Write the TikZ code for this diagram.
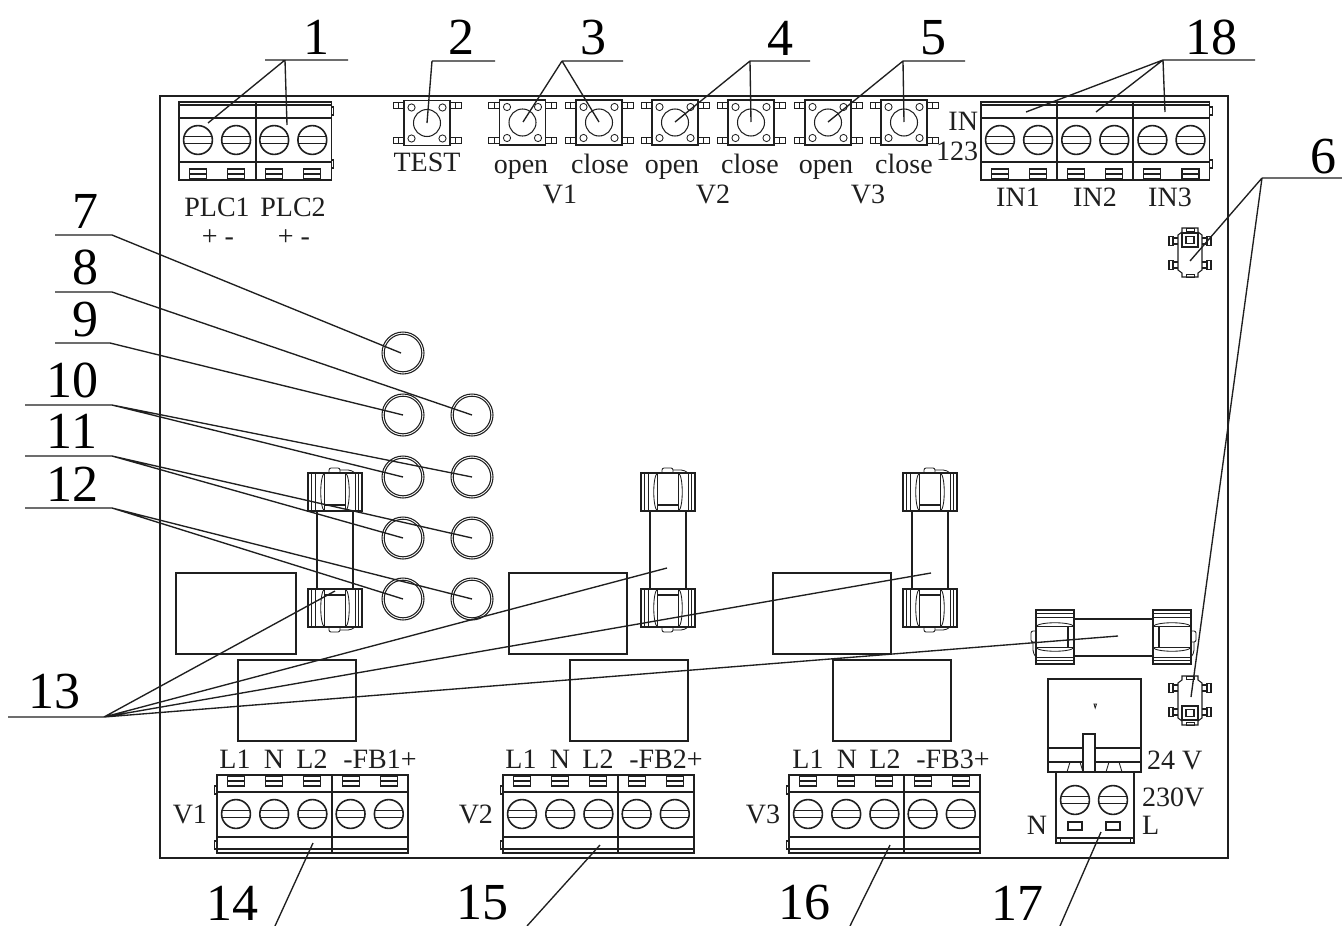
\documentclass[tikz,border=0pt]{standalone}
\usepackage{fontspec}
\setmainfont{Liberation Serif}
\definecolor{ink}{gray}{0.12}
\tikzset{
  part/.style={draw=ink,line width=1.05pt,fill=none},
  thin part/.style={draw=ink,line width=0.85pt,fill=none},
  heavy/.style={draw=ink,line width=1.6pt,fill=none},
  leader/.style={draw=ink,line width=1.35pt},
  lab/.style={inner sep=0pt,outer sep=0pt,text=ink,font=\fontsize{28}{28}\selectfont,anchor=base},
  labw/.style={lab,anchor=base west},
  labe/.style={lab,anchor=base east},
  num/.style={inner sep=0pt,outer sep=0pt,text=black,font=\fontsize{52}{52}\selectfont,anchor=center},
}
% screw: centre x, centre y
\newcommand\screwhead[2]{%
  \draw[heavy] (#1,#2) circle[radius=14.4];
  \draw[part] (#1-14,#2-3.5) -- (#1+14,#2-3.5) (#1-14,#2+3.5) -- (#1+14,#2+3.5);
}
\newcommand\smallslot[2]{%
  \draw[part] (#1-8.5,#2-5) rectangle (#1+8.5,#2+5) (#1-8.5,#2) -- (#1+8.5,#2);
}
% top terminal block: left x, screws, dividers
\newcommand\topterm[3]{%
  \pgfmathsetmacro\tw{#2*38.1}
  \draw[part] (#1,102) rectangle (#1+\tw,180);
  \draw[part] (#1,105) -- (#1+\tw,105);
  \draw[heavy] (#1,118) -- (#1+\tw,118);
  \draw[part] (#1,162) -- (#1+\tw,162);
  \draw[part] (#1+\tw,107) rectangle (#1+\tw+2.5,115) (#1+\tw,160) rectangle (#1+\tw+2.5,168);
  \foreach \d in {#3} {\draw[part] (\d,102) -- (\d,180);}
  \pgfmathtruncatemacro\lastk{#2-1}
  \foreach \k in {0,...,\lastk} {
    \pgfmathsetmacro\sx{#1+19+38.1*\k}
    \screwhead{\sx}{140}
    \smallslot{\sx}{174}
  }
}
% bottom terminal block: left x, divider
\newcommand\botterm[2]{%
  \draw[part] (#1,775) rectangle (#1+191,853);
  \draw[part] (#1,792) -- (#1+191,792);
  \draw[heavy] (#1,837) -- (#1+191,837);
  \draw[part] (#1,849) -- (#1+191,849);
  \draw[part] (#1,786) rectangle (#1-2.5,794) (#1,841) rectangle (#1-2.5,849);
  \draw[part] (#2,775) -- (#2,853);
  \foreach \k in {0,...,4} {
    \pgfmathsetmacro\sx{#1+19+38.2*\k}
    \screwhead{\sx}{814}
    \smallslot{\sx}{781}
  }
}
% tact button: centre x, centre y
\newcommand\tact[2]{%
  \draw[part] (#1-23,#2-22.5) rectangle (#1+23,#2+22.5);
  \draw[part] (#1,#2) circle[radius=13.5];
  \foreach \a in {-1,1} \foreach \b in {-1,1} {
    \draw[thin part] (#1+\a*15.5,#2+\b*15.5) circle[radius=3.6];
    \draw[thin part] (#1+\a*23,#2+\b*17.5-3) rectangle (#1+\a*34,#2+\b*17.5+3);
    \draw[thin part] (#1+\a*28.5,#2+\b*17.5-3) -- (#1+\a*28.5,#2+\b*17.5+3);
  }
}
\newcommand\ledring[2]{%
  \draw[part] (#1,#2) circle[radius=21];
  \draw[part] (#1,#2) circle[radius=18.8];
}
% fuse clip: origin, u axis, v axis (v runs toward the fuse body)
\newcommand\fuseclip[3]{%
  \begin{scope}[shift={#1},x={#2},y={#3}]
    \draw[part] (0,0) rectangle (54,38);
    \draw[thin part] (3.5,0) -- (3.5,38) (7.7,0) -- (7.7,38) (47,0) -- (47,38) (50.7,0) -- (50.7,38);
    \draw[thin part] (16.5,0) .. controls (11.5,3) and (11.5,35) .. (16.5,38);
    \draw[thin part] (37.5,0) .. controls (42.5,3) and (42.5,35) .. (37.5,38);
    \draw[part] (16.5,0) -- (16.5,38) (37.5,0) -- (37.5,38);
    \draw[part] (16.5,32) -- (37.5,32);
    \draw[thin part,rounded corners=2pt] (21,0) -- (21,-5) -- (32,-5) -- (32,0);
    \draw[thin part,rounded corners=4pt] (32,-3) -- (44,-3) -- (47,0);
  \end{scope}
}
\newcommand\vfuse[1]{%
  \fuseclip{(#1pt,-473pt)}{(1pt,0pt)}{(0pt,-1pt)}
  \fuseclip{(#1pt,-627pt)}{(1pt,0pt)}{(0pt,1pt)}
  \draw[part] (#1+9,511) -- (#1+9,589) (#1+45,511) -- (#1+45,589);
}
% small sensor: centre x, body top, dir (1 = square on top, -1 = square at bottom)
\newcommand\sensor[3]{%
  \begin{scope}[shift={(#1pt,-#2pt)},x={(1pt,0pt)},y={(0pt,#3pt*-1)}]
    \draw[part] (-8,0) -- (8,0) -- (8,4) -- (12,7) -- (12,42) -- (8,45) -- (8,49) -- (-8,49) -- (-8,45) -- (-12,42) -- (-12,7) -- (-8,4) -- cycle;
    \draw[heavy] (-8,5) rectangle (8,19);
    \draw[heavy] (-4,8.5) rectangle (4,15.5);
    \draw[thin part] (-4,46) rectangle (4,49) (-4,0) rectangle (4,3);
    \foreach \a in {-1,1} \foreach \b in {13,37} {
      \draw[part] (\a*12,\b-3) -- (\a*17,\b-3) -- (\a*17,\b+3) -- (\a*12,\b+3);
      \draw[part] (\a*17,\b-4.5) rectangle (\a*21,\b+4.5);
    }
  \end{scope}
}
\begin{document}
\begin{tikzpicture}[x=1pt,y=-1pt]
\useasboundingbox (0,0) rectangle (1342,926);
\fill[white] (0,0) rectangle (1342,926);
% board
\draw[line width=1.5pt,draw=ink] (160,96) rectangle (1228,858);
% terminals
\topterm{179}{4}{256}
\topterm{981}{6}{1057,1133}
\botterm{217}{332}
\botterm{503}{618}
\botterm{789}{904}
% buttons
\tact{427}{123}
\foreach \bx in {522.5,599,675,751,828,904} {\tact{\bx}{122.5}}
% LEDs
\ledring{403}{353}
\foreach \ry in {415,477,538,599} {\ledring{403}{\ry}\ledring{472}{\ry}}
% relays
\draw[part] (176,573) rectangle (296,654);
\foreach \rx/\ry in {509/573,773/573,238/660,570/660,833/660} {
  \draw[part] (\rx,\ry) rectangle (\rx+118,\ry+81);
}
% fuses
\vfuse{308}
\vfuse{641}
\vfuse{903}
\fuseclip{(1036pt,-610pt)}{(0pt,-1pt)}{(1pt,0pt)}
\fuseclip{(1191pt,-610pt)}{(0pt,-1pt)}{(-1pt,0pt)}
\draw[part] (1074,619) -- (1153,619) (1074,656) -- (1153,656);
% sensors
\sensor{1190}{228}{1}
\sensor{1190}{725}{-1}
% power unit
\draw[part] (1048,679) rectangle (1141,772);
\draw[part] (1048,748) -- (1141,748) (1048,762) -- (1141,762);
\draw[part,fill=white] (1083,734) rectangle (1095,772);
\draw[thin part] (1067,772) -- (1070,762) -- (1080,762) -- (1083,772);
\draw[thin part] (1106,772) -- (1109,762) -- (1119,762) -- (1122,772);
\draw[thin part] (1094,704) -- (1096.5,704) -- (1095.2,708) -- cycle;
\draw[part] (1056,772) rectangle (1134,843);
\draw[part] (1056,838) -- (1134,838);
\draw[thin part] (1056,838) rectangle (1060,843) (1130,838) rectangle (1134,843);
\screwhead{1075}{800}
\screwhead{1113}{800}
\draw[part] (1068,822) rectangle (1082,830) (1106,822) rectangle (1120,830);
% leader anchor points
\foreach \n/\px/\py in {
  a1/208/123, a1b/287/125, a2/427/123,
  a3/523/122, a3b/599/122, a4/675/122, a4b/751/122, a5/828/122, a5b/904/122,
  a18/1026/112, a18b/1096/112, a18c/1165/112,
  a6/1190/261, a6b/1191/697,
  a7/401/353, a8/472/415, a9/403/415,
  a10/403/477, a10b/472/477, a11/403/538, a11b/472/538, a12/403/599, a12b/472/599,
  a13/335/591, a13b/667/568, a13c/931/573, a13d/1118/636,
  a14/313/843, a15/600/845, a16/890/845, a17/1101/832} {
  \coordinate (\n) at (\px,\py);
}
% leader knees and free ends
\foreach \n/\px/\py in {
  k1l/265/60, k1/285/60, k1r/348/60,
  k2/432/61, k2r/495/61,
  k3/562/61, k3r/623/61,
  k4/750/61, k4r/810/61,
  k5/903/61, k5r/965/61,
  k18/1163/60, k18r/1255/60,
  k6/1262/178, k6r/1342/178,
  k7l/55/235, k7/112/235,
  k8l/55/292, k8/112/292,
  k9l/55/343, k9/110/343,
  k10l/25/405, k10/112/405,
  k11l/25/456, k11/112/456,
  k12l/25/508, k12/112/508,
  k13l/8/717, k13/104/717,
  k14/275/926, k15/527/926, k16/850/926, k17/1060/926} {
  \coordinate (\n) at (\px,\py);
}
% leaders
\draw[leader] (k1l) -- (k1r) (k1) -- (a1) (k1) -- (a1b);
\draw[leader] (k2) -- (k2r) (k2) -- (a2);
\draw[leader] (k3) -- (k3r) (k3) -- (a3) (k3) -- (a3b);
\draw[leader] (k4) -- (k4r) (k4) -- (a4) (k4) -- (a4b);
\draw[leader] (k5) -- (k5r) (k5) -- (a5) (k5) -- (a5b);
\draw[leader] (k18) -- (k18r) (k18) -- (a18) (k18) -- (a18b) (k18) -- (a18c);
\draw[leader] (k6) -- (k6r) (k6) -- (a6) (k6) -- (a6b);
\draw[leader] (k7l) -- (k7) -- (a7);
\draw[leader] (k8l) -- (k8) -- (a8);
\draw[leader] (k9l) -- (k9) -- (a9);
\draw[leader] (k10l) -- (k10) -- (a10) (k10) -- (a10b);
\draw[leader] (k11l) -- (k11) -- (a11) (k11) -- (a11b);
\draw[leader] (k12l) -- (k12) -- (a12) (k12) -- (a12b);
\draw[leader] (k13l) -- (k13) -- (a13) (k13) -- (a13b) (k13) -- (a13c) (k13) -- (a13d);
\draw[leader] (k14) -- (a14);
\draw[leader] (k15) -- (a15);
\draw[leader] (k16) -- (a16);
\draw[leader] (k17) -- (a17);
% part numbers
\node[num] (n1) at (316,37) {1};
\node[num] (n2) at (461,37) {2};
\node[num] (n3) at (593,38) {3};
\node[num] (n4) at (780,38) {4};
\node[num] (n5) at (933,38) {5};
\node[num] (n18) at (1211,37) {18};
\node[num] (n6) at (1323,157) {6};
\node[num] (n7) at (85,211) {7};
\node[num] (n8) at (85,267) {8};
\node[num] (n9) at (85,320) {9};
\node[num] (n10) at (72,380) {10};
\node[num] (n11) at (72,431) {11};
\node[num] (n12) at (72,484) {12};
\node[num] (n13) at (54,692) {13};
\node[num] (n14) at (232,903) {14};
\node[num] (n15) at (482,903) {15};
\node[num] (n16) at (804,903) {16};
\node[num] (n17) at (1017,903) {17};
% labels
\node[lab] (tplc1) at (217,216) {PLC1};
\node[lab] (tplc2) at (293,216) {PLC2};
\node[lab] (tpm1) at (218,245) {+ -};
\node[lab] (tpm2) at (294,245) {+ -};
\node[lab] (ttest) at (427,171) {TEST};
\node[lab] (to1) at (521,173) {open};
\node[lab] (tc1) at (600,173) {close};
\node[lab] (to2) at (672,173) {open};
\node[lab] (tc2) at (750,173) {close};
\node[lab] (to3) at (826,173) {open};
\node[lab] (tc3) at (904,173) {close};
\node[lab] (tv1) at (560,203) {V1};
\node[lab] (tv2) at (713,203) {V2};
\node[lab] (tv3) at (868,203) {V3};
\node[labe] (tin) at (978,130) {IN};
\node[labe] (t123) at (978,160) {123};
\node[lab] (tin1) at (1018,206) {IN1};
\node[lab] (tin2) at (1095,206) {IN2};
\node[lab] (tin3) at (1170,206) {IN3};
\foreach \o/\v in {0/1,286/2,573/3} {
  \node[lab] (tla\v) at (235+\o,768) {L1};
  \node[lab] (tn\v) at (274+\o,768) {N};
  \node[lab] (tlb\v) at (312+\o,768) {L2};
  \node[lab] (tfb\v) at (380+\o,768) {-FB\v+};
  \node[labe] (tvv\v) at (207+\o,823) {V\v};
}
\node[labw] (t24) at (1147,769) {24 V};
\node[labw] (t230) at (1142,806) {230V};
\node[lab] (tN) at (1037,834) {N};
\node[labw] (tL) at (1142,834) {L};
\end{tikzpicture}
\end{document}
